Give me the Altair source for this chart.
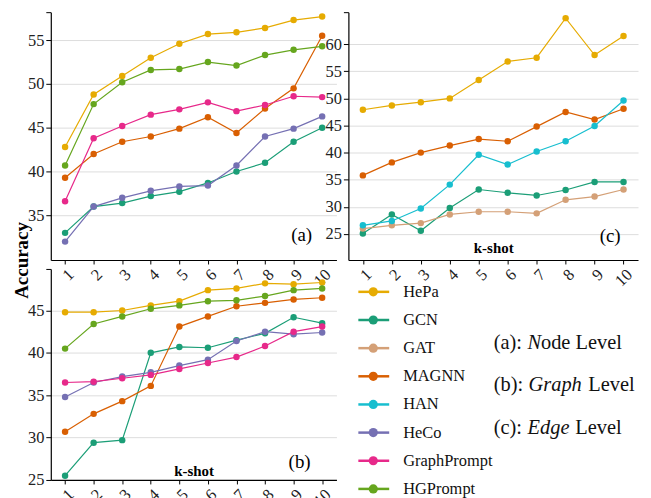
import altair as alt
import pandas as pd

k_shot = [1, 2, 3, 4, 5, 6, 7, 8, 9, 10]
series = ["HePa", "GCN", "GAT", "MAGNN", "HAN", "HeCo", "GraphPrompt", "HGPrompt"]
colors = ["#E6AB02", "#1B9E77", "#D4A077", "#D95F02", "#17BECF", "#7570B3", "#E7298A", "#66A61E"]

# (a) Node level
node_hepa = [42.8, 48.8, 50.9, 53.0, 54.6, 55.7, 55.9, 56.4, 57.3, 57.7]
node_gcn = [33.0, 36.0, 36.4, 37.2, 37.7, 38.7, 40.0, 41.0, 43.4, 45.0]
node_magnn = [39.3, 42.0, 43.4, 44.0, 44.9, 46.2, 44.4, 47.2, 49.5, 55.5]
node_heco = [32.0, 36.0, 37.0, 37.8, 38.3, 38.4, 40.7, 44.0, 44.9, 46.3]
node_graphprompt = [36.6, 43.8, 45.2, 46.5, 47.1, 47.9, 46.9, 47.6, 48.6, 48.5]
node_hgprompt = [40.7, 47.7, 50.2, 51.6, 51.7, 52.5, 52.1, 53.3, 53.9, 54.3]

# (b) Graph level
graph_hepa = [44.8, 44.8, 45.0, 45.6, 46.1, 47.4, 47.6, 48.2, 48.1, 48.3]
graph_gcn = [25.5, 29.4, 29.7, 40.0, 40.7, 40.6, 41.5, 42.3, 44.2, 43.5]
graph_magnn = [30.7, 32.8, 34.3, 36.1, 43.1, 44.3, 45.5, 45.9, 46.3, 46.5]
graph_heco = [34.8, 36.5, 37.2, 37.7, 38.5, 39.2, 41.4, 42.5, 42.2, 42.4]
graph_graphprompt = [36.5, 36.6, 37.0, 37.4, 38.1, 38.8, 39.5, 40.8, 42.5, 43.1]
graph_hgprompt = [40.5, 43.4, 44.3, 45.2, 45.6, 46.1, 46.2, 46.7, 47.4, 47.6]

# (c) Edge level
edge_hepa = [47.9, 48.7, 49.3, 50.0, 53.4, 56.8, 57.5, 64.8, 58.0, 61.5]
edge_gcn = [25.1, 28.6, 25.6, 29.8, 33.2, 32.6, 32.1, 33.1, 34.6, 34.6]
edge_gat = [26.0, 26.6, 27.0, 28.6, 29.1, 29.1, 28.8, 31.3, 31.9, 33.2]
edge_magnn = [35.8, 38.2, 40.0, 41.3, 42.5, 42.1, 44.8, 47.5, 46.1, 48.1]
edge_han = [26.6, 27.4, 29.7, 34.1, 39.6, 37.8, 40.2, 42.1, 44.9, 49.6]

panel_tags = ["(a)", "(b)", "(c)"]
ann_prefix = ["(a):", "(b):", "(c):"]
ann_italic = ["N", "Graph", "Edge"]
ann_suffix = ["ode Level", "Level", "Level"]

FONT = "Liberation Serif"
color_scale = alt.Scale(domain=series, range=colors)


def long_df(d):
    rows = []
    for s, vals in d.items():
        for k, v in zip(k_shot, vals):
            rows.append({"k": k, "acc": v, "series": s})
    return pd.DataFrame(rows)


def panel(d, ydom, yticks, w, h, tag, tagpos, ytitle=None, xtitle=None, xtitle_y=0):
    df = long_df(d)
    top = ydom[1]
    yaxis_kw = dict(values=yticks + [top], grid=True, tickSize=5, labelPadding=2,
                    labelFont=FONT, labelFontSize=16.5, labelColor="#222",
                    labelExpr="datum.value % 5 == 0 ? datum.label : ''",
                    gridOpacity={"expr": "datum.value % 5 == 0 ? 1 : 0"})
    if ytitle:
        yaxis_kw.update(title=ytitle, titleX=-29, titleY=249, titleBaseline="middle",
                        titleFontSize=19, titleFontWeight="bold", titleFont=FONT, titleColor="black")
    else:
        yaxis_kw.update(title=None)
    xaxis_kw = dict(values=k_shot, grid=False, labelAngle=315, tickSize=4, labelPadding=2,
                    labelFont=FONT, labelFontSize=16.5, labelColor="#222")
    if xtitle:
        xaxis_kw.update(title=xtitle, titleY=xtitle_y, titleBaseline="middle", titleFontSize=15,
                        titleFontWeight="bold", titleFont=FONT, titleColor="black")
    else:
        xaxis_kw.update(title=None)
    x = alt.X("k:Q", scale=alt.Scale(domain=[0.5, 10.5], nice=False, zero=False), axis=alt.Axis(**xaxis_kw))
    y = alt.Y("acc:Q", scale=alt.Scale(domain=ydom, nice=False, zero=False), axis=alt.Axis(**yaxis_kw))
    col = alt.Color("series:N", scale=color_scale, legend=None)
    base = alt.Chart(df)
    line = base.mark_line(strokeWidth=1.2).encode(x=x, y=y, color=col)
    pts = base.mark_point(filled=True, size=42, opacity=1).encode(x=x, y=y, color=col)
    lab = alt.Chart(pd.DataFrame({"t": [tag]})).mark_text(
        font=FONT, fontSize=19, align="center", baseline="middle", color="black"
    ).encode(x=alt.value(tagpos[0]), y=alt.value(tagpos[1]), text="t:N")
    return alt.layer(line, pts, lab).properties(width=w, height=h)


a = panel({"HePa": node_hepa, "GCN": node_gcn, "MAGNN": node_magnn, "HeCo": node_heco,
           "GraphPrompt": node_graphprompt, "HGPrompt": node_hgprompt},
          [29.9, 58.2], [35, 40, 45, 50, 55], 287, 249, panel_tags[0], (252, 224), ytitle="Accuracy")
b = panel({"HePa": graph_hepa, "GCN": graph_gcn, "MAGNN": graph_magnn, "HeCo": graph_heco,
           "GraphPrompt": graph_graphprompt, "HGPrompt": graph_hgprompt},
          [25, 49.9], [25, 30, 35, 40, 45], 287, 212, panel_tags[1], (250, 194),
          xtitle="k-shot", xtitle_y=-9)
c = panel({"HePa": edge_hepa, "GCN": edge_gcn, "GAT": edge_gat, "MAGNN": edge_magnn, "HAN": edge_han},
          [20.2, 65.9], [25, 30, 35, 40, 45, 50, 55, 60], 291, 249, panel_tags[2], (263, 225),
          xtitle="k-shot", xtitle_y=-13)

# legend panel
leg_df = pd.DataFrame({"series": series})
ly = alt.Y("series:N", scale=alt.Scale(type="point", domain=series, range=[23, 221], padding=0), axis=None)
lc = alt.Color("series:N", scale=color_scale, legend=None)
leg_base = alt.Chart(leg_df)
leg_rule = leg_base.mark_rule(strokeWidth=2.5).encode(x=alt.value(10), x2=alt.value(41), y=ly, color=lc)
leg_pt = leg_base.mark_point(filled=True, size=85, opacity=1).encode(x=alt.value(25), y=ly, color=lc)
leg_txt = leg_base.mark_text(font=FONT, fontSize=16.5, align="left", baseline="middle", color="#111").encode(
    x=alt.value(55), y=ly, text="series:N")

ann_layers = []
ann_y = [74, 117, 160]
italic_x = [180, 181, 180]
suffix_x = [193.5, 241, 228]
for i in range(3):
    dfi = pd.DataFrame({"p": [ann_prefix[i]], "it": [ann_italic[i]], "s": [ann_suffix[i]]})
    bi = alt.Chart(dfi)
    ann_layers.append(bi.mark_text(font=FONT, fontSize=20.5, align="left", baseline="middle", color="#111")
                      .encode(x=alt.value(146), y=alt.value(ann_y[i]), text="p:N"))
    ann_layers.append(bi.mark_text(font=FONT, fontSize=20.5, fontStyle="italic", align="left",
                                   baseline="middle", color="#111")
                      .encode(x=alt.value(italic_x[i]), y=alt.value(ann_y[i]), text="it:N"))
    ann_layers.append(bi.mark_text(font=FONT, fontSize=20.5, align="left", baseline="middle", color="#111")
                      .encode(x=alt.value(suffix_x[i]), y=alt.value(ann_y[i]), text="s:N"))

leg = alt.layer(leg_rule, leg_pt, leg_txt, *ann_layers).properties(width=291, height=212)

chart = alt.concat(a, c, b, leg, columns=2, spacing={"row": 9, "column": 12}, bounds="flush").properties(
    padding={"left": 5, "top": 2, "right": 5, "bottom": 0}
).configure_axis(
    labelFont=FONT, labelFontSize=16.5, labelColor="#222", domainColor="black", domainWidth=1.2,
    tickColor="black", tickWidth=1, gridColor="#dddddd", gridWidth=1
).configure_text(font=FONT).configure_view(strokeWidth=0).resolve_scale(color="shared")

chart.save("out.html", embed_options={"renderer": "svg", "actions": False})
